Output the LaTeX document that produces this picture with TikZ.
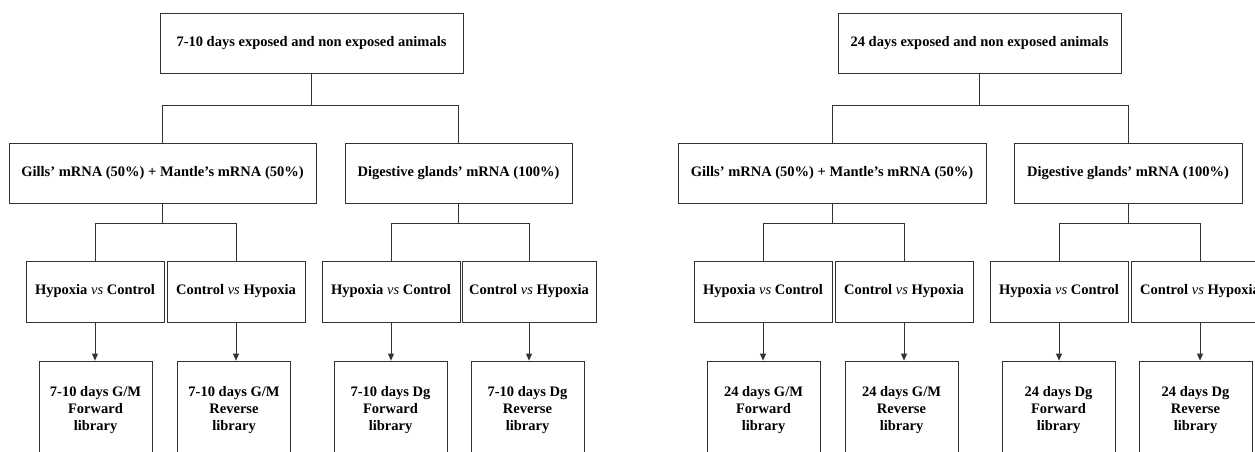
\documentclass[tikz,border=0pt]{standalone}
\usepackage{fontspec}
\setmainfont{Liberation Serif}
\usetikzlibrary{arrows.meta}

\newcommand{\vsit}{{\mdseries\itshape vs}}

\begin{document}
\begin{tikzpicture}[x=1pt, y=-1pt,
    box/.style={draw=black!80, line width=0.8pt, minimum height=60pt, inner sep=0pt,
                font=\fontsize{14.5}{17}\selectfont\bfseries},
    pair/.style={box, minimum height=61pt, minimum width=138pt},
    lib/.style={box, minimum height=98pt, minimum width=113pt, align=center},
    link/.style={draw=black!80, line width=0.8pt},
    arr/.style={link, -{Triangle[length=7pt, width=6pt]}}]
    \useasboundingbox (0,0) rectangle (1255,451);
    \clip (0,0) rectangle (1255,451);

    % 7-10 days
    \node[box, minimum width=303pt] (top7) at (311.5, 43) {7-10 days exposed and non exposed animals};
    \node[box, minimum width=307pt] (gm7) at (162.5, 173) {Gills' mRNA (50\%) + Mantle's mRNA (50\%)};
    \node[box, minimum width=227pt] (dg7) at (458.5, 173) {Digestive glands' mRNA (100\%)};

    \node[pair] (gm7hc) at ( 95, 291.5) {Hypoxia \vsit{} Control};
    \node[pair] (gm7ch) at (236, 291.5) {Control \vsit{} Hypoxia};
    \node[pair] (dg7hc) at (391, 291.5) {Hypoxia \vsit{} Control};
    \node[pair, minimum width=134pt] (dg7ch) at (529, 291.5) {Control \vsit{} Hypoxia};

    \node[lib] (gm7f) at ( 95.5, 410) {7-10 days G/M\\Forward\\library};
    \node[lib] (gm7r) at (234  , 410) {7-10 days G/M\\Reverse\\library};
    \node[lib] (dg7f) at (390.5, 410) {7-10 days Dg\\Forward\\library};
    \node[lib] (dg7r) at (527.5, 410) {7-10 days Dg\\Reverse\\library};

    \draw[link] (top7.south) -- ++(0, 32) coordinate (j7);
    \draw[link] (j7) -| (gm7.north);
    \draw[link] (j7) -| (dg7.north);
    \draw[link] (gm7.south) -- ++(0, 20) coordinate (jgm7);
    \draw[link] (jgm7) -| (gm7hc.north);
    \draw[link] (jgm7) -| (gm7ch.north);
    \draw[link] (dg7.south) -- ++(0, 20) coordinate (jdg7);
    \draw[link] (jdg7) -| (dg7hc.north);
    \draw[link] (jdg7) -| (dg7ch.north);

    \draw[arr] (gm7hc.south) -- (gm7hc.south |- gm7f.north);
    \draw[arr] (gm7ch.south) -- (gm7ch.south |- gm7r.north);
    \draw[arr] (dg7hc.south) -- (dg7hc.south |- dg7f.north);
    \draw[arr] (dg7ch.south) -- (dg7ch.south |- dg7r.north);

    % 24 days
    \node[box, minimum width=283pt] (top24) at (979.5, 43) {24 days exposed and non exposed animals};
    \node[box, minimum width=308pt] (gm24) at (832, 173) {Gills' mRNA (50\%) + Mantle's mRNA (50\%)};
    \node[box, minimum width=228pt] (dg24) at (1128, 173) {Digestive glands' mRNA (100\%)};

    \node[pair] (gm24hc) at ( 763, 291.5) {Hypoxia \vsit{} Control};
    \node[pair] (gm24ch) at ( 904, 291.5) {Control \vsit{} Hypoxia};
    \node[pair] (dg24hc) at (1059, 291.5) {Hypoxia \vsit{} Control};
    \node[pair] (dg24ch) at (1200, 291.5) {Control \vsit{} Hypoxia};

    \node[lib] (gm24f) at ( 763.5, 410) {24 days G/M\\Forward\\library};
    \node[lib] (gm24r) at ( 901.5, 410) {24 days G/M\\Reverse\\library};
    \node[lib] (dg24f) at (1058.5, 410) {24 days Dg\\Forward\\library};
    \node[lib] (dg24r) at (1195.5, 410) {24 days Dg\\Reverse\\library};

    \draw[link] (top24.south) -- ++(0, 32) coordinate (j24);
    \draw[link] (j24) -| (gm24.north);
    \draw[link] (j24) -| (dg24.north);
    \draw[link] (gm24.south) -- ++(0, 20) coordinate (jgm24);
    \draw[link] (jgm24) -| (gm24hc.north);
    \draw[link] (jgm24) -| (gm24ch.north);
    \draw[link] (dg24.south) -- ++(0, 20) coordinate (jdg24);
    \draw[link] (jdg24) -| (dg24hc.north);
    \draw[link] (jdg24) -| (dg24ch.north);

    \draw[arr] (gm24hc.south) -- (gm24hc.south |- gm24f.north);
    \draw[arr] (gm24ch.south) -- (gm24ch.south |- gm24r.north);
    \draw[arr] (dg24hc.south) -- (dg24hc.south |- dg24f.north);
    \draw[arr] (dg24ch.south) -- (dg24ch.south |- dg24r.north);
\end{tikzpicture}
\end{document}
